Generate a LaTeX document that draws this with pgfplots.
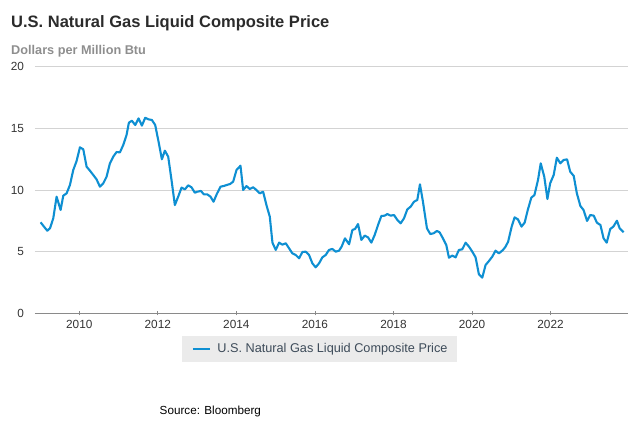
\documentclass[border=0pt]{standalone}
\usepackage{pgfplots}
\pgfplotsset{compat=1.18}
\usepackage{fontspec}
\setmainfont{Liberation Sans}
\definecolor{titlecol}{HTML}{2B2B2B}
\definecolor{subcol}{HTML}{8E8E8E}
\definecolor{tickcol}{HTML}{333333}
\definecolor{gridcol}{HTML}{D3D3D3}
\definecolor{axiscol}{HTML}{8A8A8A}
\definecolor{linecol}{HTML}{0E8FD2}
\definecolor{legfill}{HTML}{EBEBEB}
\definecolor{legtext}{HTML}{3D4B59}
\begin{document}
\begin{tikzpicture}[x=1bp,y=1bp]
\useasboundingbox (-35,-113.7) rectangle (605,313.3);
\begin{axis}[
  at={(0,0)}, anchor=south west,
  scale only axis, width=593.3bp, height=246.6bp,
  xmin=2008.873, xmax=2023.98, ymin=0, ymax=20,
  ytick={0,5,10,15,20},
  xtick={2010,2012,2014,2016,2018,2020,2022},
  xticklabels={2010,2012,2014,2016,2018,2020,2022},
  ymajorgrids, grid style={color=gridcol, line width=0.9bp},
  axis x line*=bottom, axis y line*=left,
  y axis line style={draw=none},
  x axis line style={draw=axiscol, line width=1.1bp},
  ytick style={draw=none},
  xtick style={draw=axiscol, line width=0.8bp},
  tick align=center, major tick length=4bp,
  ticklabel style={font=\fontsize{11.8bp}{13bp}\selectfont, text=tickcol},
  /pgf/number format/assume math mode=true,
  yticklabel style={xshift=-5.5bp},
  xticklabel style={yshift=-1bp},
  legend style={at={(axis description cs:0.4798,-0.1448)}, anchor=center,
    fill=legfill, draw=none, inner xsep=9.4bp, inner ysep=7.4bp,
    font=\fontsize{12.7bp}{15bp}\selectfont, text=legtext,
    nodes={inner sep=0pt}},
  legend image code/.code={\draw[#1, line width=2.2bp] (0bp,0bp) -- (16.7bp,0bp); \path (23.4bp,0bp);},
]
\addplot[color=linecol, line width=2.1bp, line join=round] table {
x y
2009.016 7.38
2009.101 7.03
2009.186 6.70
2009.254 6.89
2009.338 7.70
2009.423 9.46
2009.525 8.38
2009.593 9.54
2009.678 9.73
2009.763 10.41
2009.847 11.62
2009.932 12.35
2010.017 13.46
2010.102 13.30
2010.187 11.89
2010.271 11.57
2010.356 11.22
2010.441 10.86
2010.526 10.27
2010.611 10.54
2010.696 11.08
2010.780 12.16
2010.865 12.70
2010.950 13.08
2011.035 13.05
2011.120 13.65
2011.204 14.46
2011.264 15.46
2011.340 15.62
2011.425 15.27
2011.510 15.81
2011.595 15.22
2011.679 15.86
2011.764 15.73
2011.849 15.68
2011.934 15.27
2012.019 13.92
2012.104 12.49
2012.180 13.19
2012.265 12.70
2012.349 10.81
2012.434 8.78
2012.519 9.46
2012.604 10.19
2012.689 10.05
2012.774 10.38
2012.858 10.22
2012.943 9.78
2013.003 9.86
2013.097 9.92
2013.173 9.65
2013.258 9.65
2013.342 9.46
2013.419 9.05
2013.503 9.68
2013.597 10.27
2013.673 10.32
2013.758 10.41
2013.842 10.49
2013.919 10.68
2014.003 11.62
2014.105 11.97
2014.173 10.00
2014.258 10.32
2014.342 10.08
2014.427 10.22
2014.512 10.00
2014.597 9.73
2014.681 9.86
2014.766 8.78
2014.851 7.84
2014.919 5.73
2015.003 5.14
2015.088 5.73
2015.173 5.57
2015.258 5.68
2015.342 5.27
2015.427 4.86
2015.512 4.73
2015.597 4.46
2015.681 4.97
2015.766 5.00
2015.851 4.73
2015.936 4.05
2016.020 3.73
2016.105 4.05
2016.190 4.54
2016.275 4.73
2016.359 5.14
2016.444 5.22
2016.529 5.00
2016.614 5.08
2016.681 5.41
2016.766 6.08
2016.870 5.60
2016.954 6.76
2017.022 6.84
2017.098 7.24
2017.183 5.95
2017.268 6.30
2017.353 6.16
2017.437 5.73
2017.522 6.35
2017.607 7.16
2017.692 7.89
2017.777 7.92
2017.844 8.05
2017.929 7.92
2018.014 7.97
2018.099 7.57
2018.183 7.30
2018.268 7.70
2018.353 8.43
2018.438 8.65
2018.523 9.05
2018.607 9.19
2018.675 10.46
2018.751 9.05
2018.853 6.89
2018.938 6.43
2019.023 6.49
2019.107 6.68
2019.175 6.57
2019.260 6.08
2019.345 5.54
2019.413 4.51
2019.498 4.68
2019.582 4.54
2019.667 5.14
2019.752 5.19
2019.837 5.73
2019.922 5.41
2020.007 5.00
2020.091 4.54
2020.176 3.16
2020.261 2.89
2020.346 3.92
2020.431 4.24
2020.515 4.59
2020.600 5.08
2020.685 4.86
2020.790 5.14
2020.855 5.41
2020.920 5.81
2021.010 7.03
2021.085 7.78
2021.170 7.62
2021.260 7.03
2021.340 7.35
2021.420 8.38
2021.510 9.38
2021.590 9.59
2021.680 10.81
2021.750 12.16
2021.840 11.08
2021.920 9.27
2021.990 10.54
2022.080 11.22
2022.160 12.62
2022.250 12.16
2022.330 12.43
2022.420 12.49
2022.500 11.49
2022.590 11.14
2022.670 9.73
2022.760 8.70
2022.840 8.38
2022.930 7.49
2023.010 7.97
2023.100 7.92
2023.180 7.35
2023.270 7.16
2023.350 6.08
2023.430 5.73
2023.520 6.84
2023.600 7.03
2023.690 7.51
2023.760 6.89
2023.860 6.57
};
\addlegendentry{U.S. Natural Gas Liquid Composite Price}
\end{axis}
\node[anchor=base west, inner sep=0pt, text=titlecol, font=\fontsize{16.5bp}{19bp}\selectfont\bfseries] at (-24,286) {U.S. Natural Gas Liquid Composite Price};
\node[anchor=base west, inner sep=0pt, text=subcol, font=\fontsize{12.7bp}{15bp}\selectfont\bfseries] at (-24,259.3) {Dollars per Million Btu};
\node[anchor=base west, inner sep=0pt, text=black, font=\fontsize{11.7bp}{14bp}\selectfont] at (124.5,-101.2) {Source: Bloomberg};
\end{tikzpicture}
\end{document}
